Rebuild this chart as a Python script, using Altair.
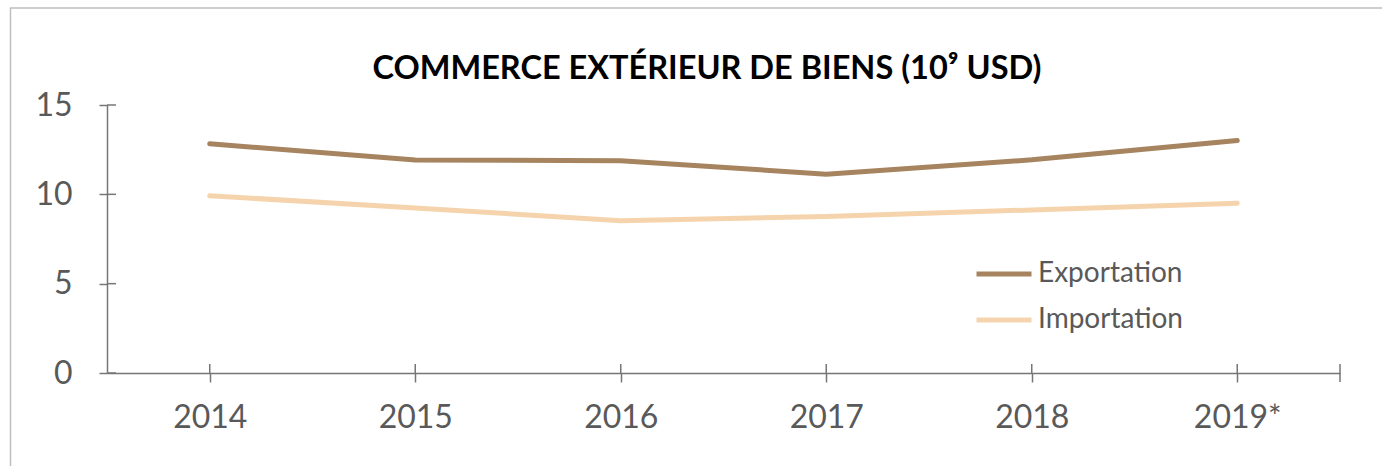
import altair as alt
import pandas as pd

years = ["2014", "2015", "2016", "2017", "2018", "2019*"]
exportation = [12.83, 11.92, 11.88, 11.13, 11.93, 13.01]
importation = [9.92, 9.24, 8.52, 8.76, 9.13, 9.50]
series = ["Exportation", "Importation"]
colors = ["#a6845f", "#f5d4ad"]
y_ticks = [0, 5, 10, 15]
title_text = "COMMERCE EXTÉRIEUR DE BIENS (10⁹ USD)"

rows = []
for y, e, i in zip(years, exportation, importation):
    rows.append({"year": y, "series": "Exportation", "value": e})
    rows.append({"year": y, "series": "Importation", "value": i})
df = pd.DataFrame(rows)
ticks_df = pd.DataFrame({"v": y_ticks})
years_df = pd.DataFrame({"year": years})
one = pd.DataFrame({"a": [0]})

W, H = 1233, 268
AXC = "#767676"
LBL = "#595959"
FONT = "Lato"

xscale = alt.Scale(type="point", padding=0.5, domain=years)
yscale = alt.Scale(domain=[0, 15])

border = alt.Chart(one).mark_rect(
    filled=False, stroke="#bfbfbf", strokeWidth=1.5, clip=False
).encode(x=alt.value(-96.5), x2=alt.value(1300), y=alt.value(-97), y2=alt.value(380))

title = alt.Chart(one).mark_text(
    font=FONT, fontSize=32.5, fontWeight="bold", color="#000000",
    align="center", baseline="alphabetic", clip=False
).encode(x=alt.value(600), y=alt.value(-26), text=alt.value(title_text))

lines = alt.Chart(df).mark_line(strokeWidth=5, strokeCap="round", strokeJoin="round").encode(
    x=alt.X("year:N", scale=xscale, sort=years,
            axis=alt.Axis(title=None, labelFontSize=32, labelColor=LBL, labelFont=FONT,
                          domainColor=AXC, domainWidth=1.5, tickColor=AXC, tickWidth=1.5,
                          tickSize=9, labelPadding=20, labelAngle=0)),
    y=alt.Y("value:Q", scale=yscale,
            axis=alt.Axis(title=None, values=y_ticks, labelFontSize=32, labelColor=LBL,
                          labelFont=FONT, domainColor=AXC, domainWidth=1.5, tickColor=AXC,
                          tickWidth=1.5, tickSize=8, labelPadding=27, grid=False)),
    color=alt.Color("series:N", scale=alt.Scale(domain=series, range=colors),
                    legend=alt.Legend(title=None, orient="none", legendX=867, legendY=139,
                                      symbolType="stroke", symbolSize=3025, symbolStrokeWidth=5,
                                      labelFontSize=28, labelColor=LBL, labelFont=FONT,
                                      labelOffset=4, rowPadding=2)),
)

yin = alt.Chart(ticks_df).mark_rule(color=AXC, strokeWidth=1.5, clip=False).encode(
    y=alt.Y("v:Q", scale=yscale), x=alt.value(0), x2=alt.value(9)
)
xin = alt.Chart(years_df).mark_rule(color=AXC, strokeWidth=1.5, clip=False).encode(
    x=alt.X("year:N", scale=xscale, sort=years), y=alt.value(H - 9), y2=alt.value(H)
)
xend = alt.Chart(one).mark_rule(color=AXC, strokeWidth=1.5, clip=False).encode(
    x=alt.value(W), y=alt.value(H - 9), y2=alt.value(H + 9)
)

chart = alt.layer(border, title, lines, yin, xin, xend).properties(
    width=W, height=H,
    autosize=alt.AutoSizeParams(type="none"),
    padding={"left": 107, "top": 105, "right": 42, "bottom": 93},
    background="white",
).configure_view(stroke=None)

chart.save("out.html", embed_options={"renderer": "svg", "actions": False})
